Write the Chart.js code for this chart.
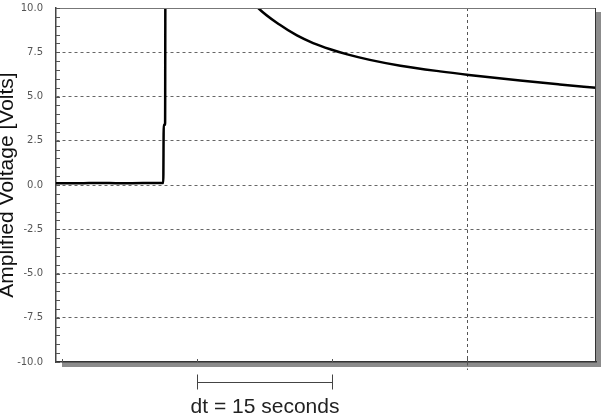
<!DOCTYPE html>
<html>
<head>
<meta charset="utf-8">
<script src="https://cdn.jsdelivr.net/npm/chart.js@4.4.1/dist/chart.umd.min.js"></script>
<style>
    html, body { margin: 0; padding: 0; background: #ffffff; }
    #wrap { width: 604px; height: 420px; position: relative; }
</style>
</head>
<body>
<div id="wrap"><canvas id="voltChart" width="604" height="420"></canvas></div>
<script>
// ----- data -----
const timeSec = [-0.67, 2, 4, 6.5, 9, 11.25, 11.3, 11.45, 11.5, 18, 20.5,
    21.8, 24.2, 26.1, 27.9, 29.8, 31.7, 34.2, 37.6, 42.0, 45.2, 50.9, 55.3, 59.33];
const voltage = [0.1, 0.1, 0.12, 0.1, 0.11, 0.12, 3.4, 3.4, 15, 13, 10.8,
    10.0, 9.05, 8.45, 8.02, 7.67, 7.38, 7.07, 6.74, 6.42, 6.22, 5.9, 5.68, 5.49];
const yTicks = [-10, -7.5, -5, -2.5, 0, 2.5, 5, 7.5, 10];
const xMarks = [0, 15, 30, 45];
const xGridAt = 45;
const dtRange = [15, 30];
const dtLabel = 'dt = 15 seconds';
const yTitle = 'Amplified Voltage [Volts]';

const points = timeSec.map((t, i) => ({ x: t, y: voltage[i] }));

// frame extras: shadow, top/right border, minor ticks, dt bracket, axis title
const framePlugin = {
    id: 'frame',
    beforeDraw(chart) {
        const { ctx, chartArea: a } = chart;
        ctx.save();
        ctx.fillStyle = '#8c8c8c';
        ctx.fillRect(a.left + 6, a.bottom, a.right - a.left - 1, 5);
        ctx.fillRect(a.right, a.top + 4, 5, a.bottom - a.top + 1);
        ctx.restore();
    },
    afterDraw(chart) {
        const { ctx, chartArea: a } = chart;
        const xs = chart.scales.x, ys = chart.scales.y;
        ctx.save();
        // top + right border
        ctx.lineWidth = 1;
        ctx.strokeStyle = '#777';
        ctx.beginPath();
        ctx.moveTo(a.left, a.top + 0.5);
        ctx.lineTo(a.right, a.top + 0.5);
        ctx.stroke();
        ctx.strokeStyle = '#333';
        ctx.beginPath();
        ctx.moveTo(a.right - 0.5, a.top);
        ctx.lineTo(a.right - 0.5, a.bottom);
        ctx.stroke();

        // minor ticks on the y axis (every 0.5 V), pointing inward
        ctx.strokeStyle = '#555';
        for (let v = -10; v <= 10.001; v += 0.5) {
            const py = Math.round(ys.getPixelForValue(v)) + 0.5;
            ctx.beginPath();
            ctx.moveTo(a.left, py);
            ctx.lineTo(a.left + 4, py);
            ctx.stroke();
        }
        // small ticks on the time axis
        xMarks.forEach(t => {
            const px = Math.round(xs.getPixelForValue(t)) + 0.5;
            ctx.beginPath();
            ctx.moveTo(px, a.bottom);
            ctx.lineTo(px, a.bottom - 3);
            ctx.stroke();
        });

        // dt bracket
        const x1 = Math.round(xs.getPixelForValue(dtRange[0])) + 0.5;
        const x2 = Math.round(xs.getPixelForValue(dtRange[1])) + 0.5;
        const by = a.bottom + 20.5;
        ctx.strokeStyle = '#444';
        ctx.beginPath();
        ctx.moveTo(x1, by); ctx.lineTo(x2, by);
        ctx.moveTo(x1, by - 8); ctx.lineTo(x1, by + 7);
        ctx.moveTo(x2, by - 8); ctx.lineTo(x2, by + 7);
        ctx.stroke();
        ctx.fillStyle = '#222';
        ctx.font = '21px "Liberation Sans", Arial, sans-serif';
        ctx.textAlign = 'center';
        ctx.textBaseline = 'alphabetic';
        ctx.fillText(dtLabel, (x1 + x2) / 2, 413);

        // y axis title, partly cut by the left edge as in the original
        ctx.translate(12.5, (a.top + a.bottom) / 2);
        ctx.rotate(-Math.PI / 2);
        ctx.fillStyle = '#111';
        ctx.fillText(yTitle, 0, 0);
        ctx.restore();
    }
};

const ctx = document.getElementById('voltChart').getContext('2d');
new Chart(ctx, {
    type: 'line',
    data: {
        datasets: [{
            data: points,
            borderColor: '#000000',
            borderWidth: 2.5,
            pointRadius: 0,
            fill: false,
            cubicInterpolationMode: 'monotone'
        }]
    },
    options: {
        responsive: false,
        animation: false,
        devicePixelRatio: 1,
        layout: { padding: { left: 0, right: 8, top: 8, bottom: 52 } },
        plugins: {
            legend: { display: false },
            tooltip: { enabled: false }
        },
        scales: {
            x: {
                type: 'linear',
                min: -0.67,
                max: 59.33,
                afterBuildTicks: (scale) => { scale.ticks = xMarks.map(v => ({ value: v })); },
                afterFit: (scale) => { scale.height = 6; scale.paddingLeft = 0; scale.paddingRight = 0; },
                ticks: { display: false },
                grid: {
                    color: (c) => (c.tick && c.tick.value === xGridAt ? '#555' : 'rgba(0,0,0,0)'),
                    tickColor: (c) => (c.tick && c.tick.value === xGridAt ? '#555' : 'rgba(0,0,0,0)'),
                    tickBorderDash: [3, 3],
                    tickLength: 8,
                    lineWidth: 1
                },
                border: { display: true, color: '#333', width: 1.5, dash: [3, 3] }
            },
            y: {
                min: -10,
                max: 10,
                afterBuildTicks: (scale) => { scale.ticks = yTicks.map(v => ({ value: v })); },
                afterFit: (scale) => { scale.width = 56; scale.paddingTop = 0; scale.paddingBottom = 0; },
                ticks: {
                    color: '#555',
                    padding: 13,
                    font: { family: '"DejaVu Sans", sans-serif', size: 10 },
                    callback: (v) => Number(v).toFixed(1)
                },
                grid: {
                    drawTicks: false,
                    color: (c) => (c.tick && Math.abs(c.tick.value) < 10 ? '#666' : 'rgba(0,0,0,0)'),
                    lineWidth: 1
                },
                border: { display: true, color: '#444', width: 1.5, dash: [3, 3] }
            }
        }
    },
    plugins: [framePlugin]
});
</script>
</body>
</html>
